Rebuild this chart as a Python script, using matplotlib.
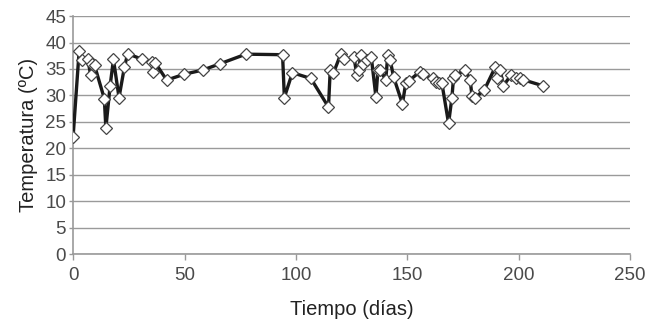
import matplotlib
matplotlib.use("Agg")
import matplotlib.pyplot as plt

dias = [0, 2.7, 3.9, 6.6, 7.9, 8.4, 9.6, 14, 14.7, 16.6, 18.1, 20.6, 23, 24.5,
        31.1, 35.3, 35.8, 36.8, 42, 49.8, 58.2, 66, 77.5, 94, 94.8, 98.4,
        106.7, 114.6, 115.4, 116.8, 120.1, 121.6, 126.1, 127.3, 128.1, 129.1,
        130.3, 131.8, 133.8, 135.9, 136.8, 137.8, 140.3, 141.2, 142.3, 143.8,
        147.8, 149.3, 150.8, 155.7, 156.8, 161.3, 162.8, 164.3, 165.5, 168.5,
        170, 170.7, 171.5, 176, 178.2, 179, 180.4, 184.5, 189.4, 190.4, 191.6,
        193.1, 196.4, 198.8, 200.6, 201.7, 211]
temperatura = [22.2, 38.4, 36.7, 36.8, 33.8, 36, 35.7, 29.4, 23.8, 31.8, 36.8,
               29.6, 35.3, 37.9, 36.8, 36.4, 34.5, 36.2, 32.9, 34.0, 34.8, 36,
               37.8, 37.7, 29.6, 34.3, 33.2, 27.8, 34.9, 34.2, 37.8, 36.8, 37.2,
               33.8, 34.8, 37.6, 36, 36.7, 37.3, 29.7, 34.8, 34.8, 32.9, 37.6,
               36.7, 33.5, 28.4, 32.4, 32.8, 34.5, 34.0, 33.2, 32.6, 32.4, 32.3,
               24.7, 29.6, 33.2, 33.8, 34.8, 32.9, 29.9, 29.6, 31, 35.3, 33.2,
               34.9, 31.8, 33.8, 33.2, 33.2, 33.0, 31.8]

x_ticks = [0, 50, 100, 150, 200, 250]
y_ticks = list(range(0, 50, 5))

plt.rcParams["font.family"] = ["Liberation Sans", "DejaVu Sans"]

fig = plt.figure(figsize=(6.47, 3.22), dpi=100)
ax = fig.add_axes([0.113, 0.211, 0.861, 0.739])

ax.plot(dias, temperatura, color="#1a1a1a", linewidth=2.4, zorder=3,
        marker="D", markersize=6, markerfacecolor="white",
        markeredgecolor="#444444", markeredgewidth=0.9)

ax.set_xlim(0, 250)
ax.set_ylim(0, 45)
ax.set_xticks(x_ticks)
ax.set_yticks(y_ticks)
ax.yaxis.grid(True, color="#9a9a9a", linewidth=1.0)
ax.set_axisbelow(True)

for side in ["top", "right"]:
    ax.spines[side].set_visible(False)
for side in ["left", "bottom"]:
    ax.spines[side].set_color("#999999")
    ax.spines[side].set_linewidth(1.2)

ax.tick_params(axis="both", colors="#999999", length=4, width=1.0,
               labelsize=13.5, labelcolor="#4a4a4a")
ax.tick_params(axis="y", length=3, pad=2)
ax.tick_params(axis="x", pad=5)

ax.set_xlabel("Tiempo (días)", fontsize=14.5, color="#222222", labelpad=12)
ax.set_ylabel("Temperatura (ºC)", fontsize=14.5, color="#222222", labelpad=5)

fig.savefig("out.png", dpi=100)
